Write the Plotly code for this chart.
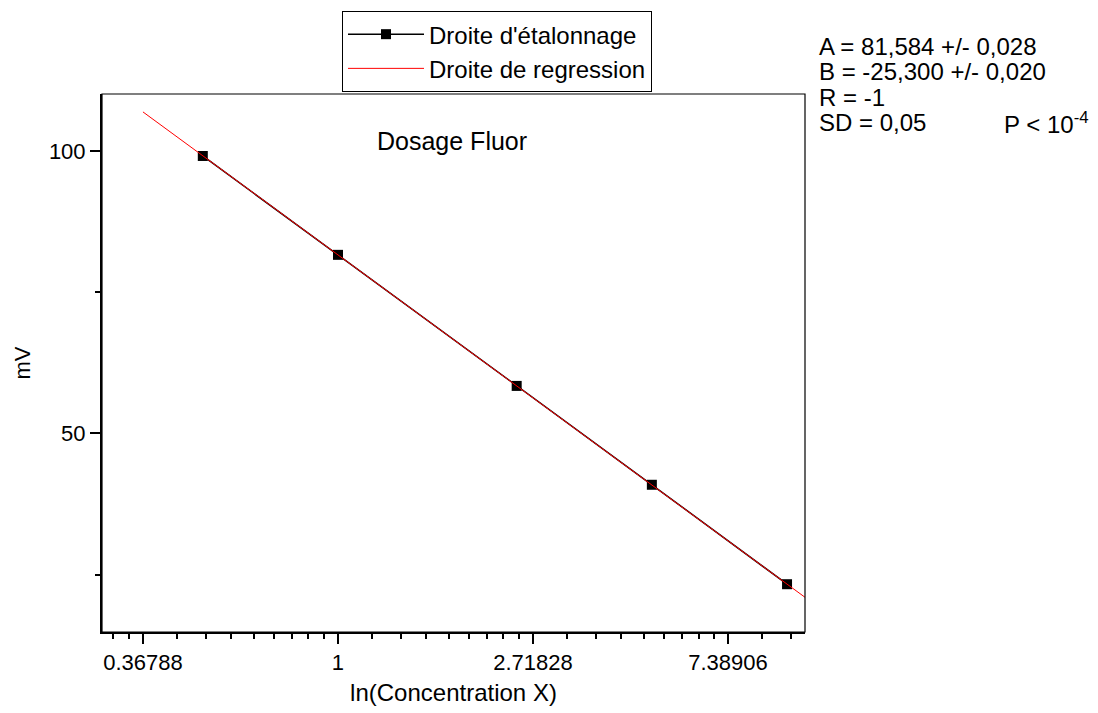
import plotly.graph_objects as go

# Data
concentration = [0.5, 1.0, 2.5, 5.0, 10.0]
mv_values = [99.1, 81.6, 58.4, 40.9, 23.3]
reg_x = [0.36788, 12.0]
reg_y = [106.9, 18.7]

x_tickvals = [0.36788, 1.0, 2.71828, 7.38906]
x_ticktext = ["0.36788", "1", "2.71828", "7.38906"]
x_minor = [0.3162, 0.3420, 0.4381, 0.5083, 0.5785, 0.6488, 0.7190, 0.7893,
           0.8595, 0.9298, 1.1909, 1.3818, 1.5727, 1.7636, 1.9546, 2.1455,
           2.3364, 2.5273, 3.2374, 3.7565, 4.2756, 4.7947, 5.3138, 5.8328,
           6.3519, 6.8710, 8.8, 10.21]
y_tickvals = [50, 100]
y_minor = [25, 75]

stats_lines = ["A = 81,584 +/- 0,028", "B = -25,300 +/- 0,020", "R = -1", "SD = 0,05"]
p_text = "P < 10<sup>-4</sup>"

FONT = "Liberation Sans, Arial, sans-serif"

fig = go.Figure()
fig.add_trace(go.Scatter(
    x=concentration, y=mv_values, mode="lines+markers",
    name="Droite d'étalonnage",
    line=dict(color="black", width=1.5),
    marker=dict(symbol="square", size=10, color="black"),
))
fig.add_trace(go.Scatter(
    x=reg_x, y=reg_y, mode="lines", name="Droite de regression",
    line=dict(color="red", width=1),
))

fig.update_layout(
    width=1098, height=713,
    margin=dict(l=102, r=293, t=93, b=81),
    paper_bgcolor="white", plot_bgcolor="white",
    font=dict(family=FONT, color="black"),
    showlegend=True,
    legend=dict(
        x=0.3414, y=1.152, xanchor="left", yanchor="top",
        bordercolor="black", borderwidth=1, bgcolor="white",
        font=dict(size=24, family=FONT), tracegroupgap=0,
        itemwidth=76,
    ),
    xaxis=dict(
        type="log", range=[-0.5255, 1.040],
        tickmode="array", tickvals=x_tickvals, ticktext=x_ticktext,
        ticks="outside", ticklen=10, tickwidth=2, tickcolor="black",
        showline=True, linewidth=2, linecolor="black",
        showgrid=False, zeroline=False,
        tickfont=dict(size=22),
        minor=dict(tickmode="array", tickvals=x_minor, ticks="outside",
                   ticklen=5, tickwidth=1.5, tickcolor="black", showgrid=False),
        title=dict(text="ln(Concentration X)", font=dict(size=24), standoff=10),
    ),
    yaxis=dict(
        range=[14.84, 110.07],
        tickmode="array", tickvals=y_tickvals,
        ticks="outside", ticklen=10, tickwidth=2, tickcolor="black",
        showline=True, linewidth=2, linecolor="black",
        showgrid=False, zeroline=False,
        tickfont=dict(size=22),
        minor=dict(tickmode="array", tickvals=y_minor, ticks="outside",
                   ticklen=5, tickwidth=1.5, tickcolor="black", showgrid=False),
        title=dict(text="mV", font=dict(size=22), standoff=12),
    ),
)

fig.add_shape(type="rect", xref="paper", yref="paper", x0=0, y0=0, x1=1, y1=1,
              line=dict(color="black", width=1.2), layer="above")

fig.add_annotation(text="Dosage Fluor", xref="paper", yref="paper",
                   x=0.498, y=0.913, xanchor="center", yanchor="middle",
                   showarrow=False, font=dict(size=25, family=FONT))

ys = [1.089, 1.0427, 0.9944, 0.9462]
for txt, yy in zip(stats_lines, ys):
    fig.add_annotation(text=txt, xref="paper", yref="paper", x=1.0185, y=yy,
                       xanchor="left", yanchor="middle", showarrow=False,
                       borderpad=0, font=dict(size=24, family=FONT))
fig.add_annotation(text=p_text, xref="paper", yref="paper", x=1.281, y=ys[3],
                   xanchor="left", yanchor="middle", showarrow=False,
                   borderpad=0, font=dict(size=24, family=FONT))

fig.write_html("out.html", config={"displayModeBar": False},
               post_script="document.body.style.margin='0px';")
